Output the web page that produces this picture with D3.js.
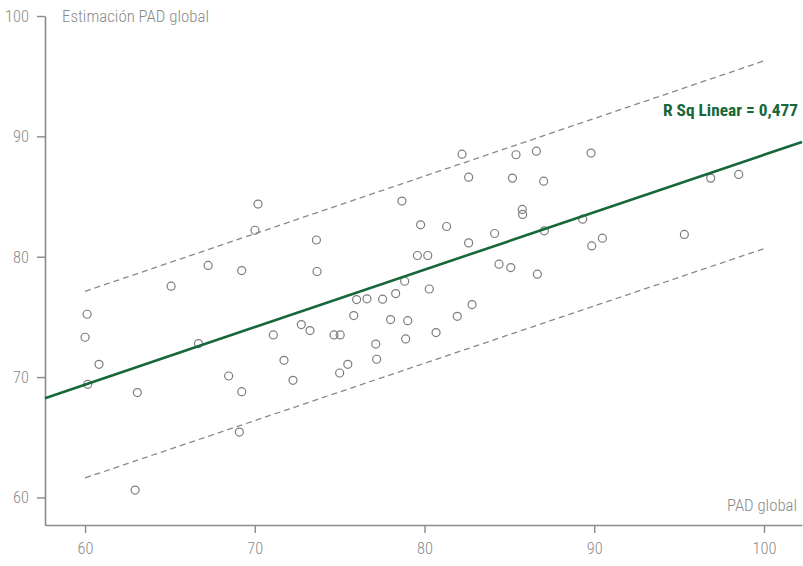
<!DOCTYPE html>
<html>
<head>
<meta charset="utf-8">
<script src="https://cdn.jsdelivr.net/npm/d3@7"></script>
<style>
  html, body { margin: 0; padding: 0; background: #fff; }
  svg text { font-family: "Roboto Condensed", "Roboto", "Liberation Sans", sans-serif; }
  .light { font-weight: 300; }
</style>
</head>
<body>
<svg id="chart" width="803" height="566"></svg>
<script>
// PAD global (x) vs. Estimación PAD global (y)
const padGlobal = [
  60.00, 60.12, 60.16, 60.82, 63.08, 62.95, 65.07, 66.68, 67.25, 68.46,
  69.23, 69.09, 69.23, 70.01, 70.19, 71.09, 71.72, 72.25, 72.74, 73.25,
  73.63, 73.67, 74.67, 75.03, 75.00, 75.48, 75.83, 76.00, 76.61, 77.13,
  77.18, 77.53, 78.00, 78.30, 78.67, 78.83, 78.89, 79.01, 79.58, 79.77,
  80.19, 80.28, 80.68, 81.30, 81.93, 82.21, 82.60, 82.60, 82.80, 84.13,
  84.39, 85.08, 85.18, 85.39, 85.76, 85.78, 86.59, 86.65, 87.02, 87.06,
  89.32, 89.81, 89.85, 90.48, 95.31, 96.86, 98.51
];
const padEstimado = [
  73.31, 75.22, 69.40, 71.06, 68.71, 60.61, 77.55, 72.78, 79.28, 70.09,
  68.79, 65.43, 78.85, 82.20, 84.37, 73.50, 71.39, 69.73, 74.36, 73.86,
  81.39, 78.77, 73.50, 73.50, 70.34, 71.06, 75.11, 76.44, 76.50, 72.74,
  71.48, 76.47, 74.78, 76.94, 84.62, 77.96, 73.17, 74.69, 80.10, 82.65,
  80.10, 77.32, 73.70, 82.51, 75.05, 88.52, 86.61, 81.15, 76.02, 81.93,
  79.38, 79.10, 86.53, 88.47, 83.93, 83.51, 88.77, 78.55, 86.28, 82.15,
  83.12, 88.61, 80.90, 81.54, 81.85, 86.53, 86.84
];

// Linear fit and 95% individual prediction band
const fitIntercept = 40.73;
const fitSlope = 0.4774;
const bandHalfWidth = [7.75, 7.8]; // at the ends of the band range
const bandRange = [60, 100];
const rSquared = "0,477";

const xTicks = [60, 70, 80, 90, 100];
const yTicks = [60, 70, 80, 90, 100];

const svg = d3.select("#chart");
const margin = { left: 45, right: 1, top: 16, bottom: 41 };
const W = 803, H = 566;

const x = d3.scaleLinear().domain([57.64, 102.24]).range([margin.left, W - margin.right]);
const y = d3.scaleLinear().domain([57.71, 100]).range([H - margin.bottom, margin.top]);

const grey = "#8a8a8a";
const green = "#16673a";

// Narrow text: squeeze each label to a fixed width
function narrow(sel, width) {
  sel.attr("textLength", width).attr("lengthAdjust", "spacingAndGlyphs");
}

// Axes
const xAxis = svg.append("g")
  .attr("transform", `translate(0,${H - margin.bottom})`)
  .call(d3.axisBottom(x).tickValues(xTicks).tickSize(8).tickPadding(9).tickSizeOuter(0));
const yAxis = svg.append("g")
  .attr("transform", `translate(${margin.left},0)`)
  .call(d3.axisLeft(y).tickValues(yTicks).tickSize(8).tickPadding(8).tickSizeOuter(0));

[xAxis, yAxis].forEach(g => {
  g.select(".domain").attr("stroke", grey).attr("stroke-width", 1.6);
  g.selectAll(".tick line").attr("stroke", grey).attr("stroke-width", 1.4);
  g.selectAll(".tick text").attr("class", "light").attr("fill", grey).style("font-size", "17px")
    .each(function (d) { narrow(d3.select(this), d >= 100 ? 24 : 16); });
});

// Axis titles
svg.append("text")
  .attr("class", "light")
  .attr("x", margin.left + 17).attr("y", 22)
  .attr("fill", grey).style("font-size", "17px")
  .text("Estimación PAD global")
  .call(narrow, 147);
svg.append("text")
  .attr("class", "light")
  .attr("x", W - 76).attr("y", H - margin.bottom - 14)
  .attr("fill", grey).style("font-size", "17px")
  .text("PAD global")
  .call(narrow, 70);

// Prediction band (dashed)
const fit = v => fitIntercept + fitSlope * v;
const line = d3.line().x(d => x(d[0])).y(d => y(d[1]));
[1, -1].forEach(sign => {
  const pts = bandRange.map((v, i) => [v, fit(v) + sign * bandHalfWidth[i]]);
  svg.append("path")
    .attr("d", line(pts))
    .attr("fill", "none")
    .attr("stroke", grey)
    .attr("stroke-width", 1.3)
    .attr("stroke-dasharray", "6,4");
});

// Scatter points
svg.append("g").selectAll("circle")
  .data(d3.zip(padGlobal, padEstimado))
  .join("circle")
  .attr("cx", d => x(d[0]))
  .attr("cy", d => y(d[1]))
  .attr("r", 4)
  .attr("fill", "none")
  .attr("stroke", "#7d7d7d")
  .attr("stroke-width", 1.2);

// Fit line across the full x domain
const xd = x.domain();
svg.append("path")
  .attr("d", line(xd.map(v => [v, fit(v)])))
  .attr("fill", "none")
  .attr("stroke", green)
  .attr("stroke-width", 2.6);

svg.append("text")
  .attr("x", W - 140).attr("y", 116)
  .attr("fill", green)
  .style("font-size", "17px")
  .style("font-weight", "bold")
  .text(`R  Sq Linear = ${rSquared}`)
  .call(narrow, 135);
</script>
</body>
</html>
